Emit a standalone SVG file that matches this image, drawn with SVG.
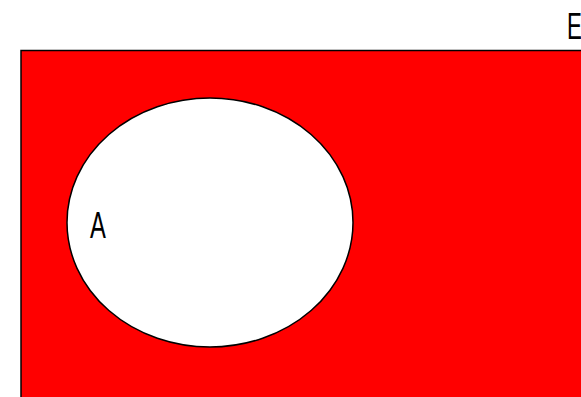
<svg xmlns="http://www.w3.org/2000/svg" width="581" height="397" viewBox="0 0 581 397">
<style>
.lbl{font-family:"Liberation Sans",Arial,sans-serif;font-size:36px;fill:#000;font-weight:normal}
</style>
<rect width="581" height="397" fill="#fff"/>
<g id="E">
<rect x="21" y="50.5" width="580" height="400" fill="#ff0000" stroke="#000" stroke-width="1.5"/>
<text class="lbl" transform="translate(567,39) scale(0.62,1)">E</text>
</g>
<g id="A">
<ellipse cx="210" cy="222.5" rx="143" ry="124.5" fill="#fff" stroke="#000" stroke-width="1.5"/>
<text class="lbl" transform="translate(90,238) scale(0.66,1)">A</text>
</g>
<g id="connectors"/>
</svg>
